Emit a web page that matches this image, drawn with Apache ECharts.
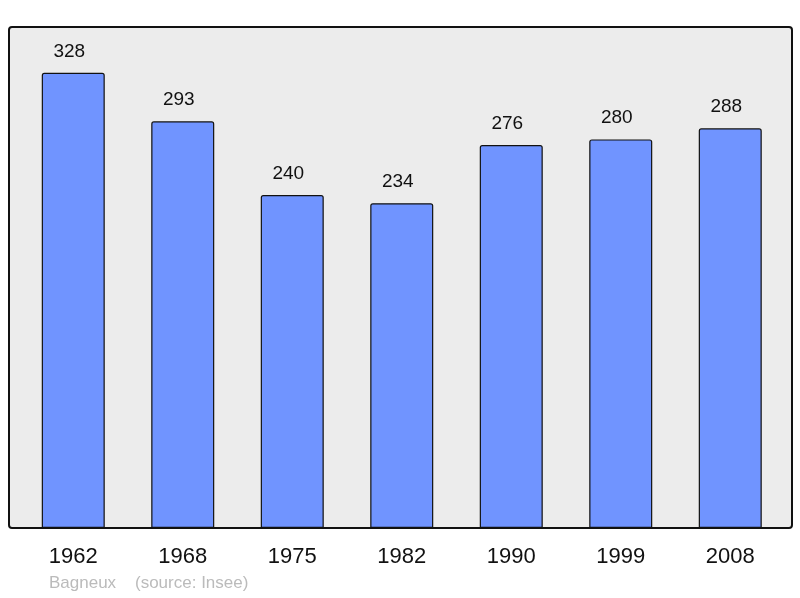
<!DOCTYPE html>
<html>
<head>
<meta charset="utf-8">
<script src="https://cdn.jsdelivr.net/npm/echarts@6/dist/echarts.min.js"></script>
<style>
html,body{margin:0;padding:0;background:#fff;}
#main{width:800px;height:598px;}
</style>
</head>
<body>
<div id="main"></div>
<script>
var years = ['1962','1968','1975','1982','1990','1999','2008'];
var population = [328,293,240,234,276,280,288];

var myChart = echarts.init(document.getElementById('main'));
myChart.setOption({
    animation:false,
    graphic:[
        {type:'rect',z:0,shape:{x:9,y:27,width:783,height:501,r:3},
            style:{fill:'#ececec',stroke:null}},
        {type:'rect',z:100,shape:{x:9,y:27,width:783,height:501,r:3},
            style:{fill:null,stroke:'#111',lineWidth:2}},
        {type:'text',z:100,left:49,top:575,
            style:{text:'Bagneux    (source: Insee)',fill:'#bbbbbb',fontSize:17,fontFamily:'Liberation Sans'}}
    ],
    grid:{left:18.5,right:15,top:27,bottom:70},
    xAxis:{
        type:'category',
        data:years,
        axisLine:{show:false},
        axisTick:{show:false},
        axisLabel:{color:'#111',fontSize:22,fontFamily:'Liberation Sans',margin:18}
    },
    yAxis:{
        type:'value',
        min:0,
        max:361,
        show:false,
        splitLine:{show:false}
    },
    series:[{
        type:'bar',
        data:population,
        barWidth:63,
        z:5,
        itemStyle:{color:'#7094ff',borderColor:'#111',borderWidth:1.2,borderRadius:[2,2,0,0]},
        label:{show:true,position:'top',distance:12,offset:[-4,0],color:'#111',fontSize:19,fontFamily:'Liberation Sans'}
    }]
});
</script>
</body>
</html>
